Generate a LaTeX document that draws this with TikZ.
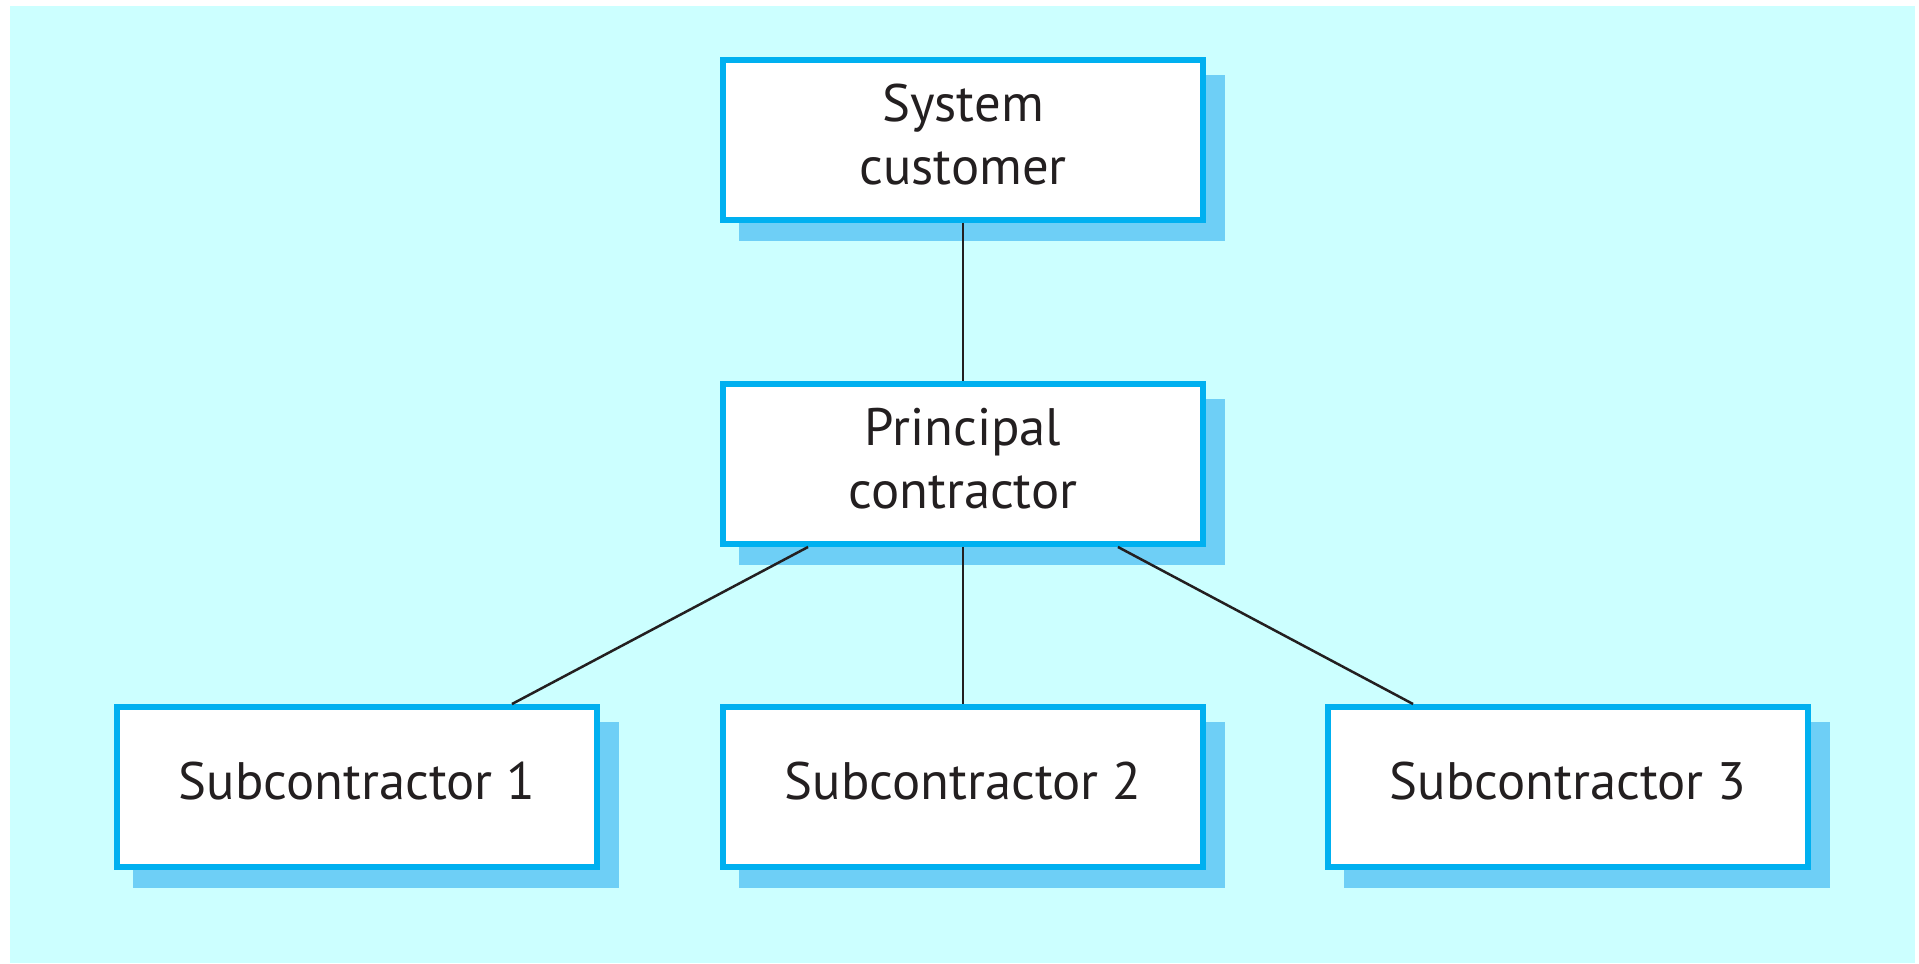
\documentclass[tikz,border=0pt]{standalone}
\usepackage{fontspec}
\setmainfont{PT Sans}
\usepackage{xcolor}
\definecolor{Col1}{RGB}{204,255,255}
\definecolor{Col2}{RGB}{0,176,240}
\definecolor{Col3}{RGB}{110,207,246}
\definecolor{Col4}{RGB}{35,31,32}
\usepackage{tikz}
\usetikzlibrary{shadows}
\tikzstyle{Box}=[rectangle,draw=Col2,fill=white,line width=0.12cm,
minimum width=9.6cm,minimum height=3.2cm,align=center,text=Col4,
text depth=0.24cm,font=\fontsize{30}{36}\selectfont,
drop shadow={shadow xshift=0.38cm,shadow yshift=-0.36cm,opacity=1,
fill=Col3,draw=Col3,line width=0.12cm}]
\tikzstyle{Edge}=[draw=Col4,line width=0.05cm]
\begin{document}
\begin{tikzpicture}[x=0.02cm,y=-0.02cm]
    \useasboundingbox (0,0) rectangle (1919,963);
    \fill[Col1] (10,6) rectangle (1915,963);
        \node[Box](C)at(963,140){System\\customer};
        \node[Box](P)at(963,464){Principal\\contractor};
        \node[Box](S1)at(357,787){Subcontractor 1};
        \node[Box](S2)at(963,787){Subcontractor 2};
        \node[Box](S3)at(1568,787){Subcontractor 3};
        \draw[Edge](C)--(P);
        \draw[Edge](P)--(S2);
        \draw[Edge]([xshift=-3.1cm]P.south)--([xshift=3.1cm]S1.north);
        \draw[Edge]([xshift=3.1cm]P.south)--([xshift=-3.1cm]S3.north);
    \end{tikzpicture}
\end{document}
